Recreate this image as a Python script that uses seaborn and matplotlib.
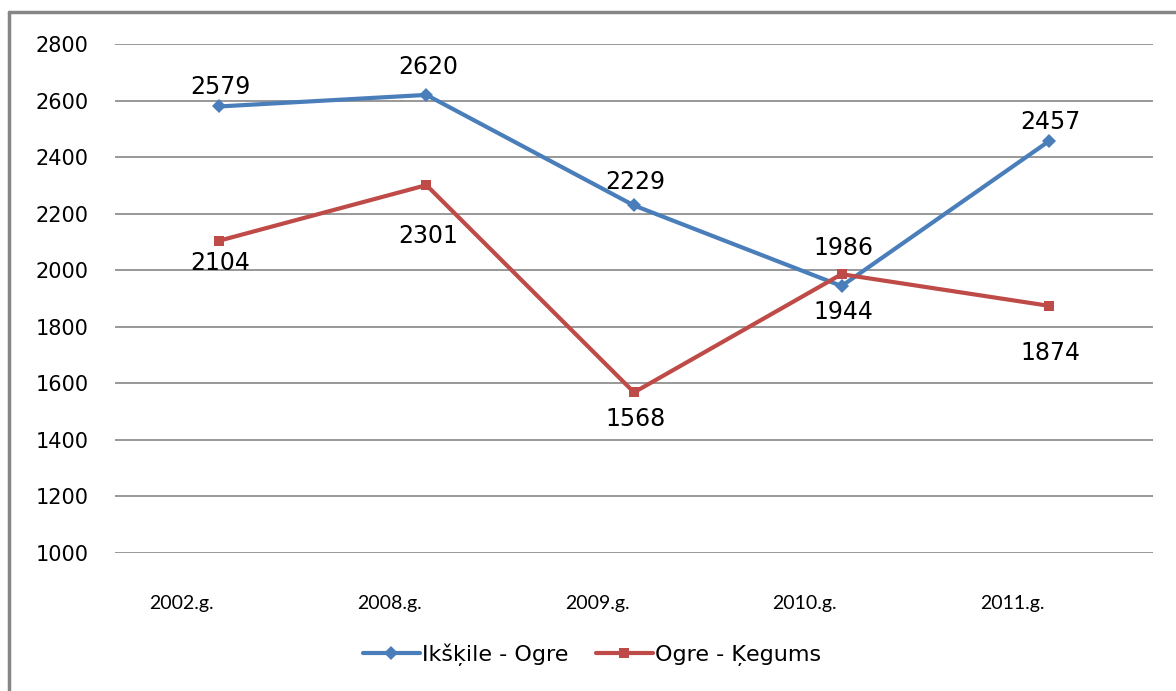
import numpy as np
import matplotlib
matplotlib.use("Agg")
import matplotlib.pyplot as plt
import matplotlib.transforms as mtransforms
import pandas as pd
import seaborn as sns

# data
years = ["2002.g.", "2008.g.", "2009.g.", "2010.g.", "2011.g."]
ikskile_ogre = [2579, 2620, 2229, 1944, 2457]
ogre_kegums = [2104, 2301, 1568, 1986, 1874]
series_names = ["Ikšķile - Ogre", "Ogre - Ķegums"]

# label offsets (points) for the value labels
blue_off = [14, 20, 17, -19, 14]
red_off = [-16, -37, -19, 19, -34]


def main():
    sns.set_theme(style="white")
    plt.rcParams["font.family"] = ["DejaVu Sans"]
    plt.rcParams["text.color"] = "black"

    df = pd.DataFrame({
        "pos": list(range(len(years))) * 2,
        "value": ikskile_ogre + ogre_kegums,
        "series": [series_names[0]] * len(years) + [series_names[1]] * len(years),
    })

    fig = plt.figure(figsize=(11.76, 6.91), dpi=100)
    ax = fig.add_axes([115 / 1176, 1 - 553 / 691, (1153 - 115) / 1176, (553 - 44) / 691])

    blue = "#4A7EBB"
    red = "#BE4B48"
    sns.lineplot(data=df, x="pos", y="value", hue="series", style="series",
                 palette=[blue, red], markers=["D", "s"], dashes=False,
                 linewidth=3, markersize=7, markeredgewidth=0, ax=ax)

    ax.set_xlim(-0.5, len(years) - 0.5)
    ax.set_ylim(1000, 2800)
    ax.set_yticks(np.arange(1000, 2801, 200))
    ax.set_xticks(range(len(years)))
    ax.set_xticklabels(years, fontfamily=["Lato", "DejaVu Sans"], fontsize=14)
    ax.set_xlabel("")
    ax.set_ylabel("")
    ax.yaxis.grid(True, color="#868686", linewidth=1.2)
    ax.set_axisbelow(True)
    for s in ax.spines.values():
        s.set_visible(False)
    ax.tick_params(axis="both", length=0, colors="black")
    ax.tick_params(axis="y", labelsize=15, pad=19)
    ax.tick_params(axis="x", pad=30)
    # excel-ish shift of the category labels
    shift = mtransforms.ScaledTranslation(-37 / 100, 0, fig.dpi_scale_trans)
    for lab in ax.get_xticklabels():
        lab.set_transform(lab.get_transform() + shift)

    # value labels
    for i, (v, o) in enumerate(zip(ikskile_ogre, blue_off)):
        ax.annotate(str(v), (i, v), xytext=(1, o), textcoords="offset points",
                    ha="center", va="center", fontsize=17, color="black")
    for i, (v, o) in enumerate(zip(ogre_kegums, red_off)):
        ax.annotate(str(v), (i, v), xytext=(1, o), textcoords="offset points",
                    ha="center", va="center", fontsize=17, color="black")

    # legend below
    handles, labels = ax.get_legend_handles_labels()
    leg = ax.legend(handles, labels, loc="center", bbox_to_anchor=(592 / 1176, 1 - 655 / 691),
                    bbox_transform=fig.transFigure, ncol=2, frameon=False, fontsize=16,
                    handlelength=2.55, columnspacing=1.25, handletextpad=0.1)
    for t in leg.get_texts():
        t.set_color("black")

    # outer chart frame
    fig.add_artist(plt.Line2D([9 / 1176, 9 / 1176], [0, 1 - 12 / 691],
                              transform=fig.transFigure, color="#868686", linewidth=2.5))
    fig.add_artist(plt.Line2D([9 / 1176, 1], [1 - 12 / 691, 1 - 12 / 691],
                              transform=fig.transFigure, color="#868686", linewidth=2.5))

    fig.savefig("out.png", dpi=100)


if __name__ == "__main__":
    main()
